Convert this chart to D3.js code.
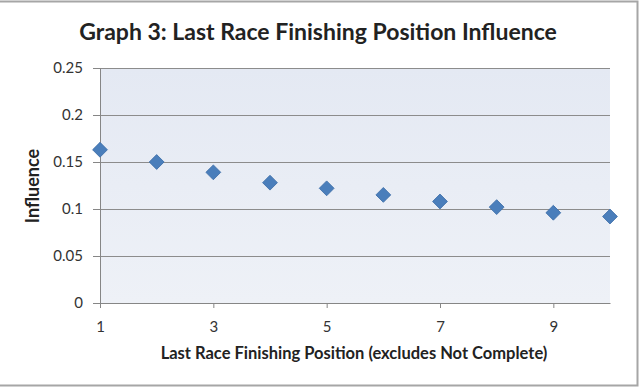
<!DOCTYPE html>
<html>
<head>
<meta charset="utf-8">
<script src="https://cdn.jsdelivr.net/npm/d3@7"></script>
<style>
  body { margin: 0; background: #fff; }
  text { font-family: Lato, "Open Sans", sans-serif; }
</style>
</head>
<body>
<svg id="chart"></svg>
<script>
// data
const positions = [1, 2, 3, 4, 5, 6, 7, 8, 9, 10]
const influence = [0.163, 0.150, 0.139, 0.128, 0.122, 0.115, 0.108, 0.102, 0.096, 0.092]
const xTicks = [1, 3, 5, 7, 9]
const yTicks = [0, 0.05, 0.1, 0.15, 0.2, 0.25]

const width = 640
const height = 387
const margin = { top: 68, right: 30, bottom: 84, left: 100 }
const boundedWidth = width - margin.left - margin.right
const boundedHeight = height - margin.top - margin.bottom

const svg = d3.select("#chart")
    .attr("width", width)
    .attr("height", height)

// outer frame (top, right, bottom)
svg.append("path")
    .attr("d", `M0,1.5 H${width - 2.5} V${height - 1.5} H0`)
    .attr("fill", "none")
    .attr("stroke", "#a6a6a6")
    .attr("stroke-width", 2)

const defs = svg.append("defs")
const grad = defs.append("linearGradient")
    .attr("id", "plotFill")
    .attr("x1", 0).attr("y1", 0).attr("x2", 0).attr("y2", 1)
grad.append("stop").attr("offset", "0%").attr("stop-color", "#e4e9f3")
grad.append("stop").attr("offset", "100%").attr("stop-color", "#eef1f7")

const bounds = svg.append("g")
    .attr("transform", `translate(${margin.left},${margin.top})`)

const x = d3.scaleLinear().domain([1, 10]).range([0, boundedWidth])
const y = d3.scaleLinear().domain([0, 0.25]).range([boundedHeight, 0])

bounds.append("rect")
    .attr("width", boundedWidth)
    .attr("height", boundedHeight)
    .attr("fill", "url(#plotFill)")

// gridlines
bounds.append("g")
  .selectAll("line")
  .data(yTicks.filter(d => d > 0))
  .join("line")
    .attr("x1", 0)
    .attr("x2", boundedWidth)
    .attr("y1", d => Math.round(y(d)) + 0.5)
    .attr("y2", d => Math.round(y(d)) + 0.5)
    .attr("stroke", "#8c8c8c")

// y axis
const yAxis = bounds.append("g")
    .call(d3.axisLeft(y).tickValues(yTicks).tickSize(7).tickPadding(10)
      .tickFormat(d => d3.format("")(+d.toFixed(2))))
yAxis.select(".domain").attr("stroke", "#868686")
yAxis.selectAll(".tick line").attr("stroke", "#868686")
yAxis.selectAll("text")
    .attr("font-size", 15)
    .attr("fill", "#333")

// x axis
const xAxis = bounds.append("g")
    .attr("transform", `translate(0,${boundedHeight})`)
    .call(d3.axisBottom(x).tickValues(xTicks).tickSize(5).tickPadding(13).tickSizeOuter(0))
xAxis.select(".domain").attr("stroke", "#868686")
xAxis.selectAll(".tick line").attr("stroke", "#868686")
xAxis.selectAll("text")
    .attr("font-size", 15)
    .attr("fill", "#333")

// markers
const diamond = d3.symbol(d3.symbolSquare, 110)
bounds.append("g")
  .selectAll("path")
  .data(positions)
  .join("path")
    .attr("d", diamond)
    .attr("transform", (d, i) => `translate(${x(d)},${y(influence[i])}) rotate(45)`)
    .attr("fill", "#4a7ebb")
    .attr("stroke", "#3d6ea8")
    .attr("stroke-width", 0.8)

// title and axis labels
svg.append("text")
    .attr("x", 318)
    .attr("y", 40)
    .attr("text-anchor", "middle")
    .attr("font-size", 23)
    .attr("font-weight", "bold")
    .attr("fill", "#222")
    .text("Graph 3: Last Race Finishing Position Influence")

svg.append("text")
    .attr("x", 354)
    .attr("y", 359)
    .attr("text-anchor", "middle")
    .attr("font-size", 16.5)
    .attr("font-weight", "bold")
    .attr("fill", "#222")
    .text("Last Race Finishing Position (excludes Not Complete)")

svg.append("text")
    .attr("transform", "translate(39,186) rotate(-90)")
    .attr("text-anchor", "middle")
    .attr("font-size", 18)
    .attr("font-weight", "bold")
    .attr("fill", "#222")
    .text("Influence")
</script>
</body>
</html>
